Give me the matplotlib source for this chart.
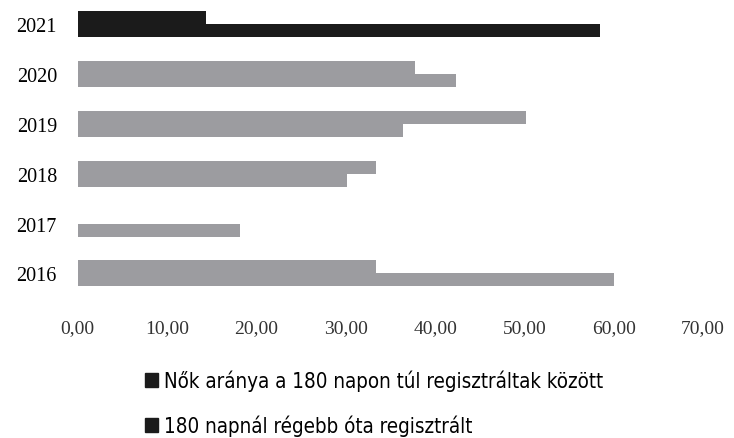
import numpy as np
import matplotlib.pyplot as plt
from matplotlib.patches import Patch

# adatok
evek = ['2016', '2017', '2018', '2019', '2020', '2021']
nok_aranya = [60.0, 18.1, 30.1, 36.4, 42.3, 58.5]
regebb_180 = [33.4, np.nan, 33.4, 50.2, 37.7, 14.4]
nev_nok = 'Nők aránya a 180 napon túl regisztráltak között'
nev_regebb = '180 napnál régebb óta regisztrált'
xticks = [0, 10, 20, 30, 40, 50, 60, 70]

szurke = '#9c9ca0'
fekete = '#1b1b1b'
szinek = [fekete if e == '2021' else szurke for e in evek]

fig = plt.figure(figsize=(7.34, 4.39), dpi=100)
ax = fig.add_axes([0.106, 0.318, 0.852, 0.682])

y = np.arange(len(evek))
h = 0.26
ax.barh(y - h / 2, nok_aranya, height=h, color=szinek)
ax.barh(y + h / 2, regebb_180, height=h, color=szinek)

ax.set_xlim(0, 70)
ax.set_ylim(-0.5, len(evek) - 0.5)
ax.set_yticks(y)
ax.set_yticklabels(evek, family='Liberation Serif', fontsize=14.5)
ax.set_xticks(xticks)
ax.set_xticklabels([f'{v:.2f}'.replace('.', ',') for v in xticks],
                   family='Liberation Serif', fontsize=14, color='#333333')
ax.tick_params(axis='both', length=0)
ax.tick_params(axis='y', pad=15)
ax.tick_params(axis='x', pad=15)
for s in ax.spines.values():
    s.set_visible(False)

kezelok = [Patch(color=fekete), Patch(color=fekete)]
fig.legend(kezelok, [nev_nok, nev_regebb], loc='upper left',
           bbox_to_anchor=(0.197, 0.156), frameon=False,
           prop={'family': 'DejaVu Sans', 'size': 14.8, 'stretch': 'condensed'},
           handlelength=0.65, handleheight=0.65, handletextpad=0.3,
           labelspacing=1.15, borderaxespad=0, borderpad=0)

fig.savefig('out.png', dpi=100)
